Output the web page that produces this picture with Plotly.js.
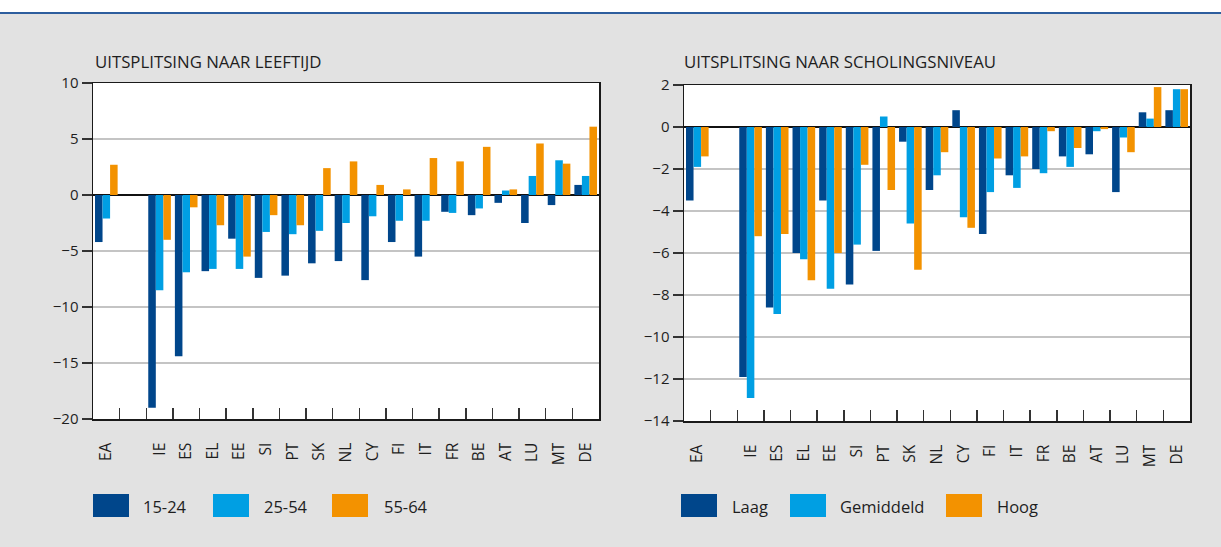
<!DOCTYPE html>
<html>
<head>
<meta charset="utf-8">
<script src="https://cdn.plot.ly/plotly-3.0.1.min.js"></script>
<style>html,body{margin:0;padding:0;background:#e2e2e2;}#chart{width:1221px;height:547px;}</style>
</head>
<body>
<div id="chart"></div>
<script>
// ---- data ----
const categories = ['EA',' ','IE','ES','EL','EE','SI','PT','SK','NL','CY','FI','IT','FR','BE','AT','LU','MT','DE'];

const ageNames = ['15-24','25-54','55-64'];
const age15_24 = [-4.2, null, -19.0, -14.4, -6.8, -3.9, -7.4, -7.2, -6.1, -5.9, -7.6, -4.2, -5.5, -1.5, -1.8, -0.7, -2.5, -0.9, 0.9];
const age25_54 = [-2.1, null, -8.5, -6.9, -6.6, -6.6, -3.3, -3.5, -3.2, -2.5, -1.9, -2.3, -2.3, -1.6, -1.2, 0.4, 1.7, 3.1, 1.7];
const age55_64 = [2.7, null, -4.0, -1.1, -2.7, -5.5, -1.8, -2.7, 2.4, 3.0, 0.9, 0.5, 3.3, 3.0, 4.3, 0.5, 4.6, 2.8, 6.1];

const eduNames = ['Laag','Gemiddeld','Hoog'];
const eduLaag = [-3.5, null, -11.9, -8.6, -6.0, -3.5, -7.5, -5.9, -0.7, -3.0, 0.8, -5.1, -2.3, -2.0, -1.4, -1.3, -3.1, 0.7, 0.8];
const eduGem  = [-1.9, null, -12.9, -8.9, -6.3, -7.7, -5.6, 0.5, -4.6, -2.3, -4.3, -3.1, -2.9, -2.2, -1.9, -0.2, -0.5, 0.4, 1.8];
const eduHoog = [-1.4, null, -5.2, -5.1, -7.3, -6.0, -1.8, -3.0, -6.8, -1.2, -4.8, -1.5, -1.4, -0.2, -1.0, -0.1, -1.2, 1.9, 1.8];

const leftTicks = [-20, -15, -10, -5, 0, 5, 10];
const rightTicks = [-14, -12, -10, -8, -6, -4, -2, 0, 2];

const titleLeft = 'UITSPLITSING NAAR LEEFTIJD';
const titleRight = 'UITSPLITSING NAAR SCHOLINGSNIVEAU';

// ---- style ----
const colors = ['#00468b', '#009fe3', '#f39200'];
const W = 1221, H = 547;
const px = x => x / W;
const py = y => 1 - y / H;
const font = 'Open Sans, Noto Sans, sans-serif';
const txt = '#1e1e1e';

const traces = [];
[age15_24, age25_54, age55_64].forEach((v, i) => {
  traces.push({type:'bar', x:categories, y:v, name:ageNames[i], xaxis:'x', yaxis:'y',
    marker:{color:colors[i], line:{width:0}}, showlegend:false, hoverinfo:'x+y'});
});
[eduLaag, eduGem, eduHoog].forEach((v, i) => {
  traces.push({type:'bar', x:categories, y:v, name:eduNames[i], xaxis:'x2', yaxis:'y2',
    marker:{color:colors[i], line:{width:0}}, showlegend:false, hoverinfo:'x+y'});
});

function xax(domain, anchor) {
  return {domain, anchor, type:'category', categoryorder:'array', categoryarray:categories,
    showline:true, linecolor:'#1a1a1a', linewidth:1.5, mirror:true,
    ticks:'inside', ticklen:11, tickwidth:1.5, tickcolor:'#333', tickson:'boundaries',
    tickangle:-90, ticklabelstandoff:16,
    tickfont:{family:font, size:15.5, color:txt}, showgrid:false, zeroline:false, fixedrange:true};
}
function yax(domain, anchor, range, ticks) {
  return {domain, anchor, range, tickvals:ticks, showline:true, linecolor:'#1a1a1a', linewidth:1.5, mirror:true,
    ticks:'outside', ticklen:10, tickwidth:1.5, tickcolor:'#333',
    showgrid:true, gridcolor:'#c4c4c4', gridwidth:1.5,
    zeroline:true, zerolinecolor:'#111', zerolinewidth:1.5,
    tickfont:{family:font, size:15, color:txt}, fixedrange:true};
}

const shapes = [
  {type:'rect', xref:'paper', yref:'paper', x0:0, x1:1, y0:py(12), y1:1, fillcolor:'#ffffff', line:{width:0}, layer:'below'},
  {type:'line', xref:'paper', yref:'paper', x0:0, x1:1, y0:py(13), y1:py(13), line:{color:'#2d5e9e', width:2}}
];
const annotations = [
  {xref:'paper', yref:'paper', x:px(93), y:py(62), xanchor:'left', yanchor:'middle', text:titleLeft, showarrow:false,
    font:{family:font, size:16.8, color:txt}},
  {xref:'paper', yref:'paper', x:px(682), y:py(62), xanchor:'left', yanchor:'middle', text:titleRight, showarrow:false,
    font:{family:font, size:16.8, color:txt}}
];
const legLeft = [[93, 141], [213, 262], [332, 382]];
const legRight = [[681, 730], [790, 838], [946, 995]];
function addLegend(pos, names) {
  pos.forEach((p, i) => {
    shapes.push({type:'rect', xref:'paper', yref:'paper', x0:px(p[0]), x1:px(p[0]+36), y0:py(517), y1:py(494),
      fillcolor:colors[i], line:{width:0}});
    annotations.push({xref:'paper', yref:'paper', x:px(p[1]), y:py(506), xanchor:'left', yanchor:'middle',
      text:names[i], showarrow:false, font:{family:font, size:16.5, color:txt}});
  });
}
addLegend(legLeft, ageNames);
addLegend(legRight, eduNames);

const layout = {
  width:W, height:H, margin:{l:0, r:0, t:0, b:0},
  paper_bgcolor:'#e2e2e2', plot_bgcolor:'#ffffff',
  barmode:'group', bargap:0.15, bargroupgap:0,
  showlegend:false,
  xaxis: xax([px(93), px(599)], 'y'),
  yaxis: yax([py(419), py(83)], 'x', [-20, 10], leftTicks),
  xaxis2: xax([px(684), px(1190)], 'y2'),
  yaxis2: yax([py(421), py(85)], 'x2', [-14, 2], rightTicks),
  shapes, annotations
};

Plotly.newPlot('chart', traces, layout, {displayModeBar:false, staticPlot:true});
</script>
</body>
</html>
